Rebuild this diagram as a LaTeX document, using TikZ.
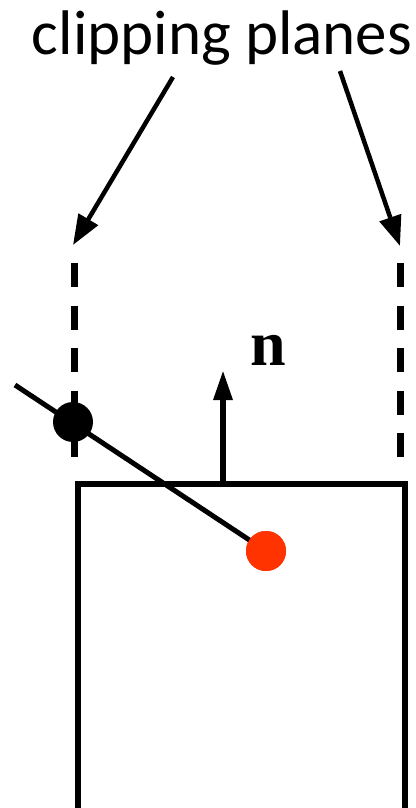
\documentclass[tikz,border=0pt]{standalone}
\usepackage{fontspec}
\setmainfont{Carlito}
\newfontfamily\nfont{Liberation Serif}
\usepackage{tikz}
\usetikzlibrary{arrows.meta,positioning,calc}
\usepackage{xcolor}
\definecolor{hitred}{HTML}{FF3300}
\tikzset{
  cube/.style    = {draw, line width=6pt, rectangle, inner sep=0pt,
                    minimum width=327pt, minimum height=328pt, anchor=north west},
  plane/.style   = {line width=7pt, dash pattern=on 24pt off 18.5pt},
  pointer/.style = {-{Triangle[length=30pt,width=22pt]}, line width=4.5pt},
  normal/.style  = {-{Triangle[length=30pt,width=18pt]}, line width=6pt},
  dot/.style     = {fill, circle, inner sep=0pt, minimum size=40pt},
  ray/.style     = {line width=5pt},
}

\begin{document}
\begin{tikzpicture}[x=1pt,y=-1pt]
\clip (0,0) rectangle (415,808);
% ---- label and pointers ----
\node[anchor=base, inner sep=0pt, font=\fontsize{63}{70}\selectfont] (lbl) at (222,55) {clipping planes};
\coordinate (la) at (173,77);
\coordinate (ra) at (340,71);
\coordinate (lt) at (73,245);
\coordinate (rt) at (400,246);
\draw[pointer] (la) -- (lt);
\draw[pointer] (ra) -- (rt);
% ---- planes ----
\coordinate (lp1) at (74,263);
\coordinate (lp2) at (74,458);
\coordinate (rp1) at (400,263);
\coordinate (rp2) at (400,458);
\draw[plane] (lp1) -- (lp2);
\draw[plane] (rp1) -- (rp2);
% ---- box and normal ----
\node[cube] (box) at (75,481) {};
\coordinate (nf) at (223,481);
\coordinate (nt) at (223,370);
\draw[normal] (nf) -- (nt);
\node[anchor=base, inner sep=0pt, font=\nfont\bfseries\fontsize{64}{70}\selectfont] (n) at (268,365) {n};
% ---- ray ----
\coordinate (rs) at (15,385);
\node[dot, fill=hitred] (pt) at (266,551) {};
\draw[ray] (rs) -- (pt.center);
\node[dot] (hit) at (73,422) {};
\node[dot, fill=hitred] at (pt) {};
\end{tikzpicture}
\end{document}
